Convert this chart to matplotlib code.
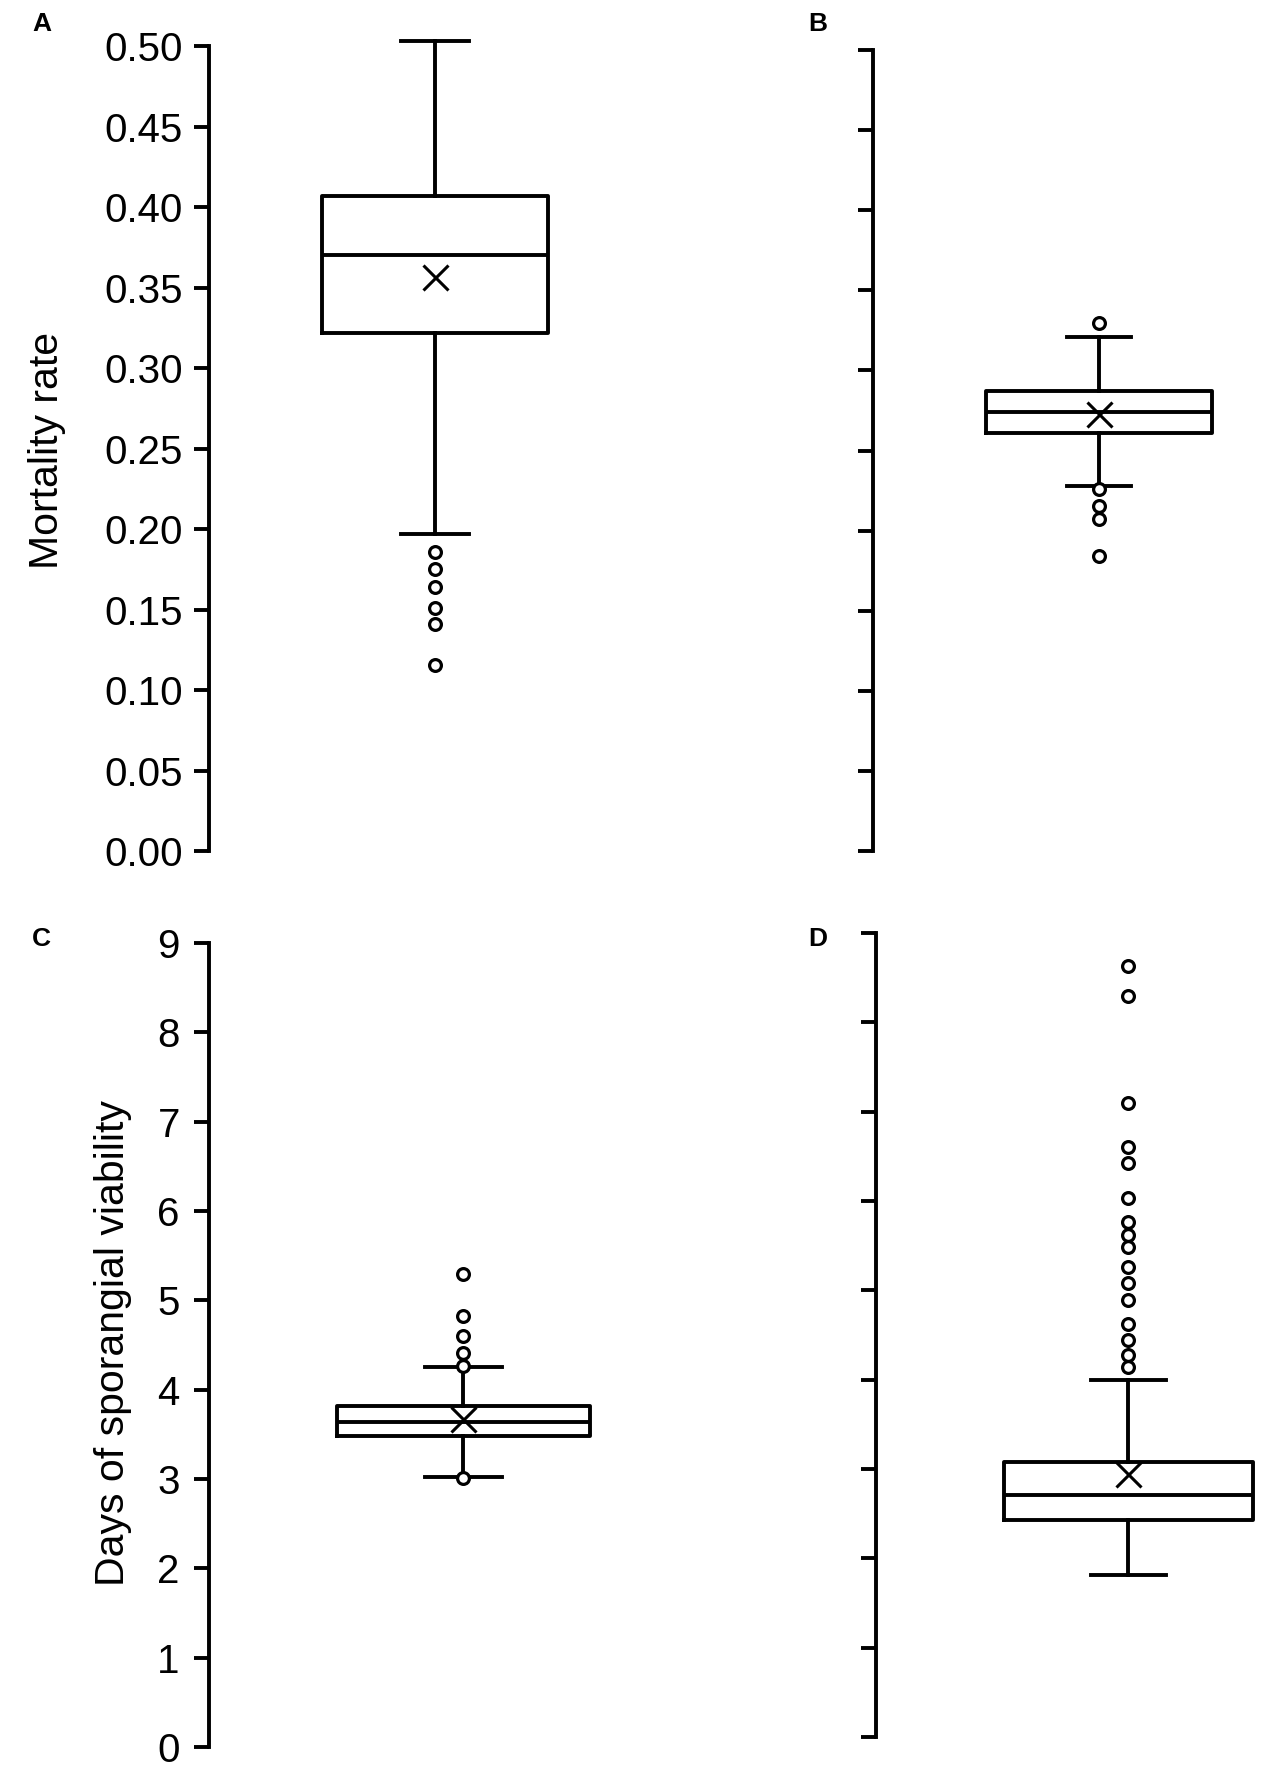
import numpy as np
import matplotlib
matplotlib.use("Agg")
import matplotlib.pyplot as plt

plt.rcParams["font.family"] = ["Liberation Sans", "DejaVu Sans"]

# box summaries: lower whisker, Q1, median, Q3, upper whisker, mean
stat_keys = ["whislo", "q1", "med", "q3", "whishi", "mean"]

a_box = [0.197, 0.322, 0.370, 0.407, 0.503, 0.3565]
a_fliers = [0.1855, 0.175, 0.164, 0.151, 0.141, 0.1155]

b_box = [0.2277, 0.261, 0.274, 0.2873, 0.321, 0.273]
b_fliers = [0.3297, 0.2262, 0.2155, 0.207, 0.1843]

c_box = [3.02, 3.48, 3.64, 3.82, 4.25, 3.67]
c_fliers = [5.30, 4.83, 4.60, 4.41, 4.26, 3.01]

d_box = [1.81, 2.43, 2.71, 3.08, 4.00, 2.94]
d_fliers = [8.63, 8.30, 7.10, 6.60, 6.42, 6.03, 5.77, 5.62, 5.48,
            5.26, 5.08, 4.89, 4.62, 4.44, 4.28, 4.14]

mort_ticks = np.round(np.arange(0, 0.501, 0.05), 2)
mort_labels = ["%.2f" % t for t in mort_ticks]
days_ticks = list(range(0, 10))
days_labels = [str(t) for t in days_ticks]

W, H = 1265, 1785
fig = plt.figure(figsize=(W / 100, H / 100), dpi=100)

LW = 2.8


def panel(left, top, bottom, right, ylim, ticks, labels, box, fliers,
          center, width, capw, fs, pad):
    ax = fig.add_axes([left / W, 1 - bottom / H, (right - left) / W, (bottom - top) / H])
    ax.set_xlim(0, right - left)
    ax.set_ylim(*ylim)
    stats = dict(zip(stat_keys, box))
    stats["fliers"] = fliers
    arts = ax.bxp([stats], positions=[center - left], widths=[width], capwidths=[capw],
                  showmeans=True, manage_ticks=False,
                  boxprops=dict(color="black", linewidth=LW),
                  whiskerprops=dict(color="black", linewidth=LW),
                  capprops=dict(color="black", linewidth=LW),
                  medianprops=dict(color="black", linewidth=LW),
                  meanprops=dict(marker="x", markersize=18, markeredgewidth=2.2,
                                 markeredgecolor="black"),
                  flierprops=dict(marker="o", markersize=8.5, markeredgewidth=2.3,
                                  markerfacecolor="white", markeredgecolor="black"))
    for group in arts.values():
        for a in group:
            a.set_clip_on(False)
    for s in ["top", "right", "bottom"]:
        ax.spines[s].set_visible(False)
    ax.spines["left"].set_linewidth(LW)
    ax.set_xticks([])
    ax.set_yticks(ticks)
    if labels:
        ax.set_yticklabels(labels, fontsize=fs)
    else:
        ax.set_yticklabels([])
    ax.tick_params(axis="y", direction="out", length=11, width=LW, pad=pad)
    return ax


panel(209, 46, 851, 640, (0, 0.5), mort_ticks, mort_labels, a_box, a_fliers,
      435, 226, 68, 29, 8)
panel(873, 50, 851, 1265, (0, 0.5), mort_ticks, None, b_box, b_fliers,
      1099, 226, 64, 29, 8)
panel(209, 943, 1747, 640, (0, 9), days_ticks, days_labels, c_box, c_fliers,
      463, 253, 77, 29, 10)
panel(876, 933, 1737, 1265, (0, 9), days_ticks, None, d_box, d_fliers,
      1128, 249, 75, 29, 10)

fig.text(47 / W, 1 - 450 / H, "Mortality rate", rotation=90, fontsize=29.5,
         ha="center", va="center")
fig.text(113 / W, 1 - 1343 / H, "Days of sporangial viability", rotation=90,
         fontsize=29.5, ha="center", va="center")

for letter, x, y in [("A", 32, 24), ("B", 808, 24), ("C", 32, 939), ("D", 808, 939)]:
    fig.text(x / W, 1 - y / H, letter, fontsize=19, fontweight="bold",
             ha="left", va="center")

fig.savefig("out.png", dpi=100)
